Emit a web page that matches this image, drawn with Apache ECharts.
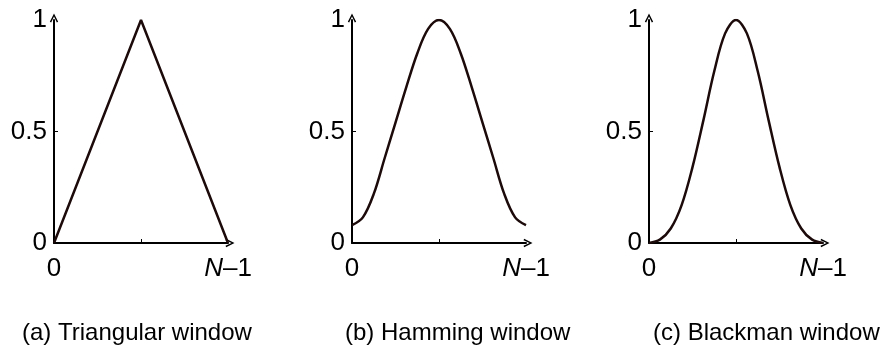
<!DOCTYPE html>
<html>
<head>
<meta charset="utf-8">
<script src="https://cdn.jsdelivr.net/npm/echarts@6/dist/echarts.min.js"></script>
<style>html,body{margin:0;padding:0;background:#fff}#c{width:886px;height:350px}</style>
</head>
<body>
<div id="c"></div>
<script>
// ---- data ----
const triangularX = [0, 0.5, 1];
const triangularY = [0, 1, 0];
const windowX = [0, 0.0625, 0.125, 0.1875, 0.25, 0.3125, 0.375, 0.4375, 0.5, 0.5625, 0.625, 0.6875, 0.75, 0.8125, 0.875, 0.9375, 1];
const hammingY = [0.08, 0.115, 0.22, 0.38, 0.54, 0.70, 0.85, 0.96, 1.0, 0.96, 0.85, 0.70, 0.54, 0.38, 0.22, 0.115, 0.08];
const blackmanY = [0, 0.015, 0.065, 0.17, 0.34, 0.55, 0.77, 0.94, 1.0, 0.94, 0.77, 0.55, 0.34, 0.17, 0.065, 0.015, 0];
const yTickLabels = ['0', '0.5', '1'];
const xTickLabels = ['0', 'N–1'];
const captions = ['(a) Triangular window', '(b) Hamming window', '(c) Blackman window'];

// ---- chart ----
const FONT = "'Liberation Sans', Arial, sans-serif";
const INK = '#000';
const CURVE = '#1c0a0a';
const chevron = 'path://M0,10 L5,0 L10,10 L8.4,10.8 L5,3.6 L1.6,10.8 Z';

const gridLefts = [54, 352, 649];
const captionLefts = [22, 345, 653];

function pairs(xs, ys) { return xs.map((x, i) => [x, ys[i]]); }

const grids = gridLefts.map(l => ({ left: l, top: 20, width: 174, height: 223, containLabel: false }));

const xAxes = gridLefts.map((_, i) => ({
  type: 'value', gridIndex: i, min: 0, max: 1, interval: 0.5,
  splitLine: { show: false },
  axisLine: { show: true, onZero: false, symbol: ['none', chevron], symbolSize: [11, 9], symbolOffset: [0, 2],
    lineStyle: { color: INK, width: 2 } },
  axisTick: { show: true, inside: true, length: 4, customValues: [0.5], lineStyle: { color: INK, width: 1 } },
  axisLabel: {
    show: true, customValues: [0, 1], margin: 13, color: INK, fontSize: 26, fontFamily: FONT,
    formatter: v => v === 0 ? xTickLabels[0] : '{i|N}' + xTickLabels[1].slice(1),
    rich: { i: { fontStyle: 'italic', fontSize: 26, fontFamily: FONT, color: INK } }
  }
}));

const yAxes = gridLefts.map((_, i) => ({
  type: 'value', gridIndex: i, min: 0, max: 1, interval: 0.5,
  splitLine: { show: false },
  axisLine: { show: true, onZero: false, symbol: ['none', chevron], symbolSize: [11, 9], symbolOffset: [0, 2],
    lineStyle: { color: INK, width: 2 } },
  axisTick: { show: true, inside: true, length: 4, customValues: [0.5], lineStyle: { color: INK, width: 1 } },
  axisLabel: {
    show: true, margin: 7, color: INK, fontSize: 26, fontFamily: FONT,
    formatter: v => v === 0 ? yTickLabels[0] : (v === 0.5 ? yTickLabels[1] : yTickLabels[2])
  }
}));

const seriesData = [pairs(triangularX, triangularY), pairs(windowX, hammingY), pairs(windowX, blackmanY)];
const series = seriesData.map((d, i) => ({
  type: 'line', xAxisIndex: i, yAxisIndex: i, data: d,
  smooth: i === 0 ? false : 0.35, showSymbol: false, silent: true,
  lineStyle: { color: CURVE, width: 2.5 }
}));

const graphic = captions.map((t, i) => ({
  type: 'text', left: captionLefts[i], top: 321,
  style: { text: t, fill: INK, font: '24px ' + FONT }
}));

const chart = echarts.init(document.getElementById('c'), null, { renderer: 'canvas' });
chart.setOption({
  animation: false,
  backgroundColor: '#fff',
  grid: grids, xAxis: xAxes, yAxis: yAxes, series: series, graphic: graphic
});
</script>
</body>
</html>
